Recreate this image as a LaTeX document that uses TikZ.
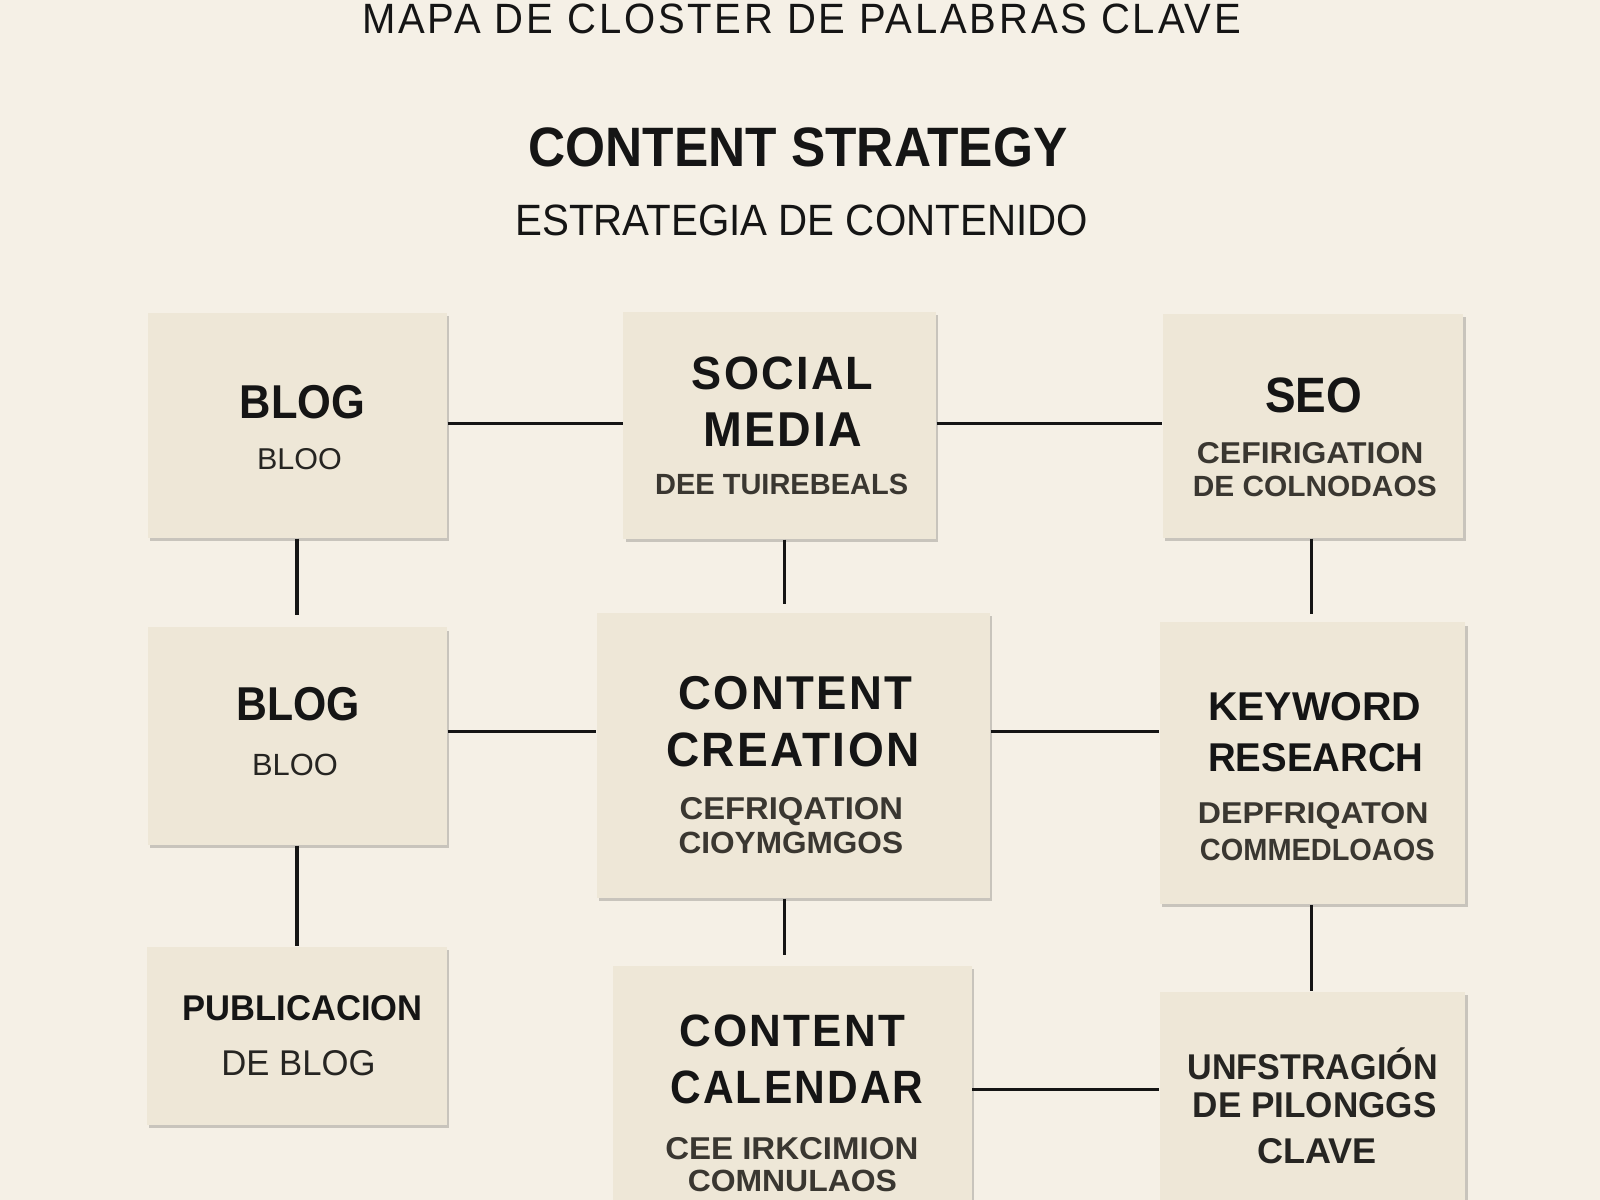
\documentclass[tikz,border=0pt]{standalone}
\usepackage{fontspec}
\setmainfont{Liberation Sans}
\newfontfamily\spaced[LetterSpace=7]{Liberation Sans}
\newfontfamily\spacedb[LetterSpace=5]{Liberation Sans}
\usepackage{graphicx}
\usetikzlibrary{shadows}
\newlength\pxu
\setlength\pxu{0.01cm}
\newcommand\fitbox[3]{\resizebox{#1\pxu}{#2\pxu}{#3}}
\definecolor{bgc}{HTML}{F5F0E6}
\definecolor{boxc}{HTML}{EEE7D7}
\definecolor{ink}{HTML}{151515}
\definecolor{subink}{HTML}{3A3731}
\definecolor{midink}{HTML}{262522}
\begin{document}
\begin{tikzpicture}[x=0.01cm,y=-0.01cm,
  box/.style={fill=boxc, draw=none, inner sep=0pt,
    drop shadow={shadow xshift=0.6pt, shadow yshift=-0.9pt, opacity=0.18, fill=black}},
  txt/.style={inner sep=0pt, anchor=base, text=ink},
  subtxt/.style={inner sep=0pt, anchor=base, text=subink},
  link/.style={draw=ink, line width=0.9pt}]
\useasboundingbox (0,0) rectangle (1568,1176);
\clip (0,0) rectangle (1568,1176);
\fill[bgc] (0,0) rectangle (1568,1176);

% headings
\node[txt] (title) at (785.5,33) {\fitbox{861}{29}{\spaced MAPA DE CLOSTER DE PALABRAS CLAVE}};
\node[txt] (head) at (782,163) {\fitbox{528}{38}{\bfseries CONTENT STRATEGY}};
\node[txt] (headsub) at (785.5,231) {\fitbox{561}{30}{ESTRATEGIA DE CONTENIDO}};

% boxes
\node[box, minimum width=2.93cm, minimum height=2.20cm] (blog1) at (291.5,417) {};
\node[box, minimum width=3.06cm, minimum height=2.22cm] (social) at (764,417) {};
\node[box, minimum width=2.94cm, minimum height=2.19cm] (seo) at (1287,417.5) {};
\node[box, minimum width=2.93cm, minimum height=2.13cm] (blog2) at (291.5,721.5) {};
\node[box, minimum width=3.85cm, minimum height=2.79cm] (cc) at (777.5,740.5) {};
\node[box, minimum width=2.99cm, minimum height=2.76cm] (kr) at (1286.5,748) {};
\node[box, minimum width=2.94cm, minimum height=1.74cm] (pub) at (291,1015) {};
\node[box, minimum width=3.51cm, minimum height=2.43cm] (cal) at (776.5,1068.5) {};
\node[box, minimum width=2.99cm, minimum height=2.18cm] (unf) at (1286.5,1081) {};

% texts
\node[txt] (blog1a) at (296.5,410) {\fitbox{123}{32.5}{\bfseries BLOG}};
\node[txt, text=midink] (blog1b) at (293.5,460.5) {\fitbox{83}{20.6}{BLOO}};

\node[txt] (social1) at (767,382) {\fitbox{178}{32}{\spacedb\bfseries SOCIAL}};
\node[txt] (social2) at (767,438) {\fitbox{156}{33}{\spacedb\bfseries MEDIA}};
\node[subtxt] (social3) at (766,485) {\fitbox{248}{20}{\bfseries DEE TUIREBEALS}};

\node[txt] (seo1) at (1287.5,404) {\fitbox{95}{34}{\bfseries SEO}};
\node[subtxt] (seo2) at (1284,454) {\fitbox{222}{20.6}{\bfseries CEFIRIGATION}};
\node[subtxt] (seo3) at (1288.5,487) {\fitbox{239}{20}{\bfseries DE COLNODAOS}};

\node[txt] (blog2a) at (292.5,706.5) {\fitbox{121}{32.5}{\bfseries BLOG}};
\node[txt, text=midink] (blog2b) at (289,760) {\fitbox{84}{21}{BLOO}};

\node[txt] (cc1) at (779.5,695) {\fitbox{229}{32.5}{\spacedb\bfseries CONTENT}};
\node[txt] (cc2) at (777,751) {\fitbox{248}{33}{\spacedb\bfseries CREATION}};
\node[subtxt] (cc3) at (775.5,803) {\fitbox{219}{21.6}{\bfseries CEFRIQATION}};
\node[subtxt] (cc4) at (775,836) {\fitbox{220}{21}{\bfseries CIOYMGMGOS}};

\node[txt] (kr1) at (1288.5,706) {\fitbox{209}{27.5}{\bfseries KEYWORD}};
\node[txt] (kr2) at (1289.5,756) {\fitbox{211}{27.5}{\bfseries RESEARCH}};
\node[subtxt] (kr3) at (1287,807) {\fitbox{226}{20.6}{\bfseries DEPFRIQATON}};
\node[subtxt] (kr4) at (1291,843) {\fitbox{230}{21}{\bfseries COMMEDLOAOS}};

\node[txt] (pub1) at (296.5,1000) {\fitbox{235}{24.5}{\bfseries PUBLICACION}};
\node[txt, text=midink] (pub2) at (292.5,1054) {\fitbox{151}{24.5}{DE BLOG}};

\node[txt] (cal1) at (776.5,1026) {\fitbox{221}{31}{\spacedb\bfseries CONTENT}};
\node[txt] (cal2) at (781,1081) {\fitbox{248}{32}{\spacedb\bfseries CALENDAR}};
\node[subtxt] (cal3) at (776,1136) {\fitbox{248}{21.6}{\bfseries CEE IRKCIMION}};
\node[subtxt] (cal4) at (776.5,1168) {\fitbox{205}{21}{\bfseries COMNULAOS}};

\node[subtxt, text=midink] (unf1) at (1286.5,1058) {\fitbox{245}{24.5}{\bfseries UNFSTRAGI\smash{Ó}N}};
\node[subtxt, text=midink] (unf2) at (1288.5,1095) {\fitbox{239}{24.5}{\bfseries DE PILONGGS}};
\node[subtxt, text=midink] (unf3) at (1290.5,1140) {\fitbox{117}{24.5}{\bfseries CLAVE}};

% connector guides
\coordinate (colL) at (291,0);
\coordinate (colM) at (769,0);
\coordinate (colR) at (1285,0);
\coordinate (rowA) at (0,415);
\coordinate (rowB) at (0,717);
\coordinate (rowC) at (0,1068);

% connectors
\draw[link] (blog1.east |- rowA) -- (social.west |- rowA);
\draw[link] (social.east |- rowA) -- (seo.west |- rowA);
\draw[link] (blog2.east |- rowB) -- (cc.west |- rowB);
\draw[link] (cc.east |- rowB) -- (kr.west |- rowB);
\draw[link] (cal.east |- rowC) -- (unf.west |- rowC);
\draw[link, shorten >=3.4pt] (blog1.south -| colL) -- (blog2.north -| colL);
\draw[link] (blog2.south -| colL) -- (pub.north -| colL);
\draw[link, shorten >=2.3pt] (social.south -| colM) -- (cc.north -| colM);
\draw[link, shorten >=2.8pt] (cc.south -| colM) -- (cal.north -| colM);
\draw[link, shorten >=2pt] (seo.south -| colR) -- (kr.north -| colR);
\draw[link] (kr.south -| colR) -- (unf.north -| colR);
\end{tikzpicture}
\end{document}
